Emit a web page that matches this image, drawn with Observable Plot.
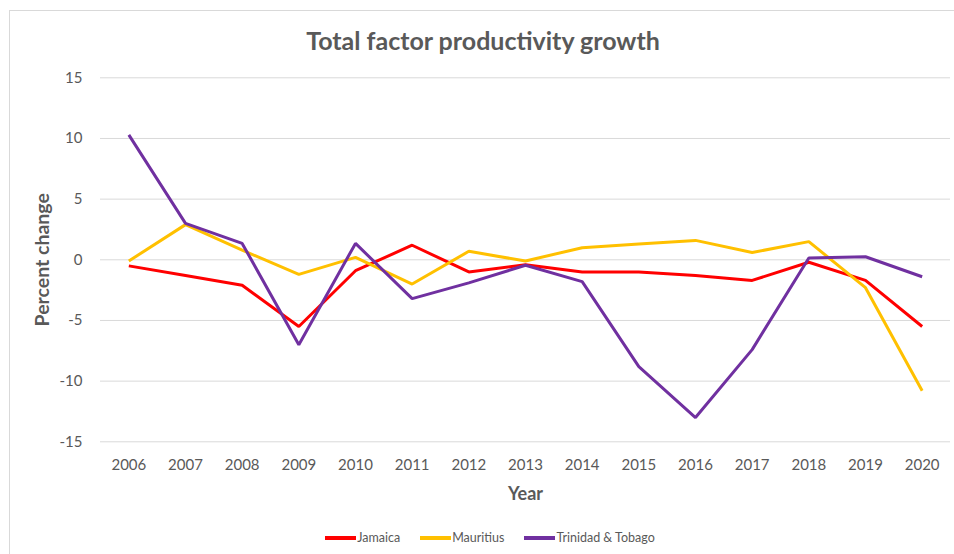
<!DOCTYPE html>
<html>
<head>
<meta charset="utf-8">
<script src="https://cdn.jsdelivr.net/npm/d3@7"></script>
<script src="https://cdn.jsdelivr.net/npm/@observablehq/plot@0.6"></script>
<style>
  html, body { margin: 0; padding: 0; background: #fff; }
  #wrap { position: relative; width: 954px; height: 554px; overflow: hidden; font-family: Lato, "Liberation Sans", sans-serif; color: #595959; }
  #frame { position: absolute; left: 9px; top: 10px; width: 960px; height: 560px; border-left: 1px solid #D9D9D9; border-top: 1px solid #D9D9D9; pointer-events: none; }
  #title { height: 33px; padding-top: 27px; line-height: 26px; text-align: center; font-size: 25px; font-weight: bold; color: #595959; padding-left: 12px; }
  #chart svg { display: block; }
  #legend { padding-top: 8px; height: 30px; display: flex; justify-content: center; align-items: center; font-size: 12.5px; line-height: 16px; padding-left: 26px; }
  .item { display: flex; align-items: center; margin: 0 10px; }
  .sw { width: 31px; height: 4px; margin-right: 1px; flex: none; }
</style>
</head>
<body>
<div id="wrap">
  <div id="frame"></div>
  <div id="title">Total factor productivity growth</div>
  <div id="chart"></div>
  <div id="legend"></div>
</div>
<script>
const years = [2006, 2007, 2008, 2009, 2010, 2011, 2012, 2013, 2014, 2015, 2016, 2017, 2018, 2019, 2020];
const seriesNames = ["Jamaica", "Mauritius", "Trinidad & Tobago"];
const seriesColors = ["#FF0000", "#FFC000", "#7030A0"];
const jamaica = [-0.5, -1.3, -2.1, -5.5, -0.9, 1.2, -1.0, -0.4, -1.0, -1.0, -1.3, -1.7, -0.2, -1.7, -5.5];
const mauritius = [-0.1, 2.9, 0.8, -1.2, 0.2, -2.0, 0.7, -0.1, 1.0, 1.3, 1.6, 0.6, 1.5, -2.3, -10.8];
const trinidad = [10.3, 3.0, 1.35, -7.0, 1.35, -3.2, -1.9, -0.45, -1.8, -8.8, -13.0, -7.4, 0.15, 0.25, -1.4];
const yTicks = [15, 10, 5, 0, -5, -10, -15];
const yLabel = "Percent change";
const xLabel = "Year";

const valuesBySeries = [jamaica, mauritius, trinidad];
const data = [];
seriesNames.forEach((s, i) => {
  years.forEach((y, j) => data.push({series: s, year: String(y), value: valuesBySeries[i][j]}));
});

const chart = Plot.plot({
  width: 954,
  height: 455,
  marginLeft: 100,
  marginRight: 4,
  marginTop: 17.3,
  marginBottom: 73.7,
  style: {fontFamily: "Lato, 'Liberation Sans', sans-serif", fontSize: "15px", color: "#595959", background: "white"},
  x: {type: "point", domain: years.map(String), padding: 0.5, round: false},
  y: {domain: [-15, 15], ticks: yTicks},
  color: {domain: seriesNames, range: seriesColors},
  marks: [
    Plot.gridY(yTicks, {stroke: "#D9D9D9", strokeOpacity: 1, strokeWidth: 1}),
    Plot.axisY(yTicks, {tickSize: 0, tickPadding: 18, label: null, fontSize: 15, tickFormat: d => d < 0 ? "-" + Math.abs(d) : String(d)}),
    Plot.axisX({tickSize: 0, tickPadding: 18, label: null, fontSize: 15}),
    Plot.lineY(data, {x: "year", y: "value", z: "series", stroke: "series", strokeWidth: 3, strokeLinejoin: "miter", strokeLinecap: "butt"}),
    Plot.text([yLabel], {frameAnchor: "left", textAnchor: "middle", rotate: -90, dx: -58, fontSize: 19.5, fontWeight: "bold", fill: "#595959"}),
    Plot.text([xLabel], {frameAnchor: "bottom", textAnchor: "middle", dy: 58, fontSize: 18, fontWeight: "bold", fill: "#595959"})
  ]
});
document.getElementById("chart").appendChild(chart);

const legend = document.getElementById("legend");
seriesNames.forEach((s, i) => {
  const it = document.createElement("div");
  it.className = "item";
  const sw = document.createElement("div");
  sw.className = "sw";
  sw.style.background = seriesColors[i];
  const t = document.createElement("span");
  t.textContent = s;
  it.appendChild(sw);
  it.appendChild(t);
  legend.appendChild(it);
});
</script>
</body>
</html>
